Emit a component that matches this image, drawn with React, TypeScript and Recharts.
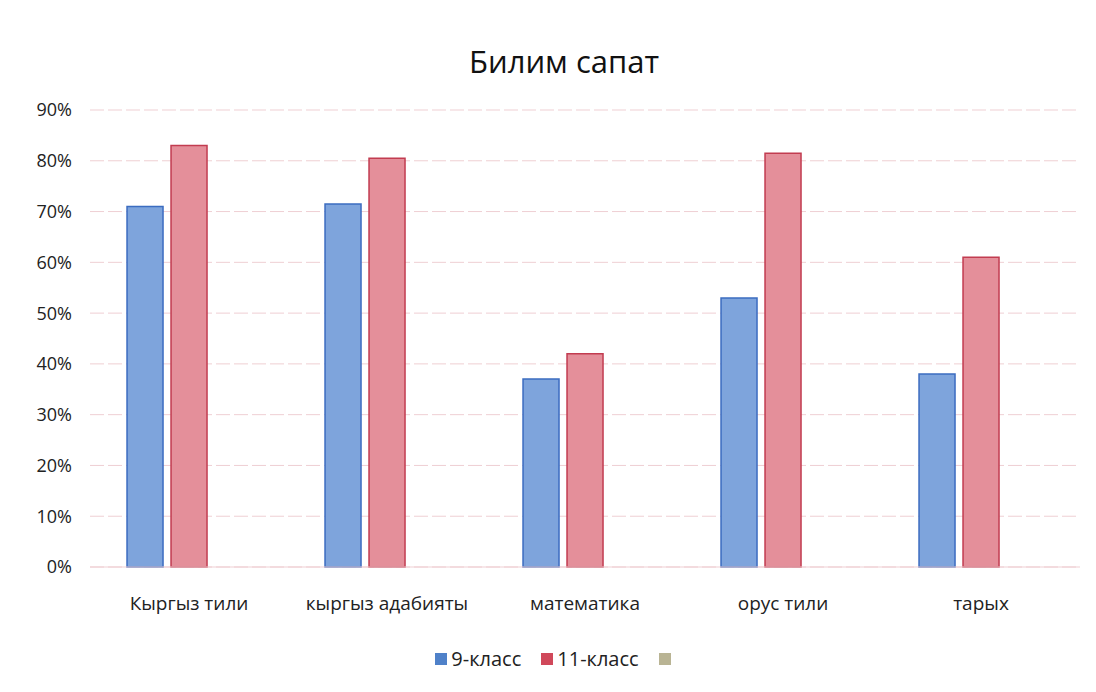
import { BarChart, Bar, XAxis, YAxis, CartesianGrid, Legend } from 'recharts';

const subjects = ['Кыргыз тили', 'кыргыз адабияты', 'математика', 'орус тили', 'тарых'];
const grade9 = [71, 71.5, 37, 53, 38];
const grade11 = [83, 80.5, 42, 81.5, 61];
const series3 = [0, 0, 0, 0, 0];
const yTicks = [0, 10, 20, 30, 40, 50, 60, 70, 80, 90];

const legendItems = [
  { label: '9-класс', color: '#4f81c9' },
  { label: '11-класс', color: '#d0485a' },
  { label: '', color: '#b9b494' },
];

const data = subjects.map((name, i) => ({
  name,
  g9: grade9[i],
  g11: grade11[i],
  s3: series3[i],
}));

const font = '"Open Sans", "Noto Sans", sans-serif';

function LegendContent() {
  return (
    <div style={{ display: 'flex', justifyContent: 'center', gap: 20, fontFamily: font, fontSize: 20, color: '#222' }}>
      {legendItems.map((it, i) => (
        <div key={i} style={{ display: 'flex', alignItems: 'center', gap: 4 }}>
          <span style={{ width: 12, height: 12, background: it.color, display: 'inline-block' }} />
          <span>{it.label}</span>
        </div>
      ))}
    </div>
  );
}

export default function App() {
  return (
    <div style={{ position: 'relative', width: 1080, height: 676, background: '#fff' }}>
      <div
        style={{
          position: 'absolute',
          top: 32,
          left: 0,
          width: 1112,
          textAlign: 'center',
          fontFamily: font,
          fontSize: 31,
          color: '#111',
        }}
      >
        Билим сапат
      </div>
      <BarChart
        width={1080}
        height={676}
        data={data}
        margin={{ top: 102, right: 8, left: 22, bottom: 30 }}
        barCategoryGap="18.7%"
        barGap={8}
      >
        <CartesianGrid vertical={false} stroke="#efcfd3" strokeDasharray="14 4" />
        <XAxis
          dataKey="name"
          axisLine={{ stroke: '#efcfd3' }}
          tickLine={false}
          tickMargin={24}
          height={60}
          tick={{ fontFamily: font, fontSize: 19, fill: '#222' }}
          interval={0}
        />
        <YAxis
          domain={[0, 90]}
          ticks={yTicks}
          tickFormatter={(v: number) => `${v}%`}
          axisLine={false}
          tickLine={false}
          width={60}
          tickMargin={12}
          tick={{ fontFamily: font, fontSize: 18, fill: '#222' }}
        />
        <Legend verticalAlign="bottom" content={<LegendContent />} wrapperStyle={{ bottom: 12 }} />
        <Bar dataKey="g9" fill="#7ea4dc" stroke="#3b6cc0" strokeWidth={1.5} isAnimationActive={false} />
        <Bar dataKey="g11" fill="#e48f9a" stroke="#c23c50" strokeWidth={1.5} isAnimationActive={false} />
        <Bar dataKey="s3" fill="#b9b494" isAnimationActive={false} />
      </BarChart>
    </div>
  );
}
